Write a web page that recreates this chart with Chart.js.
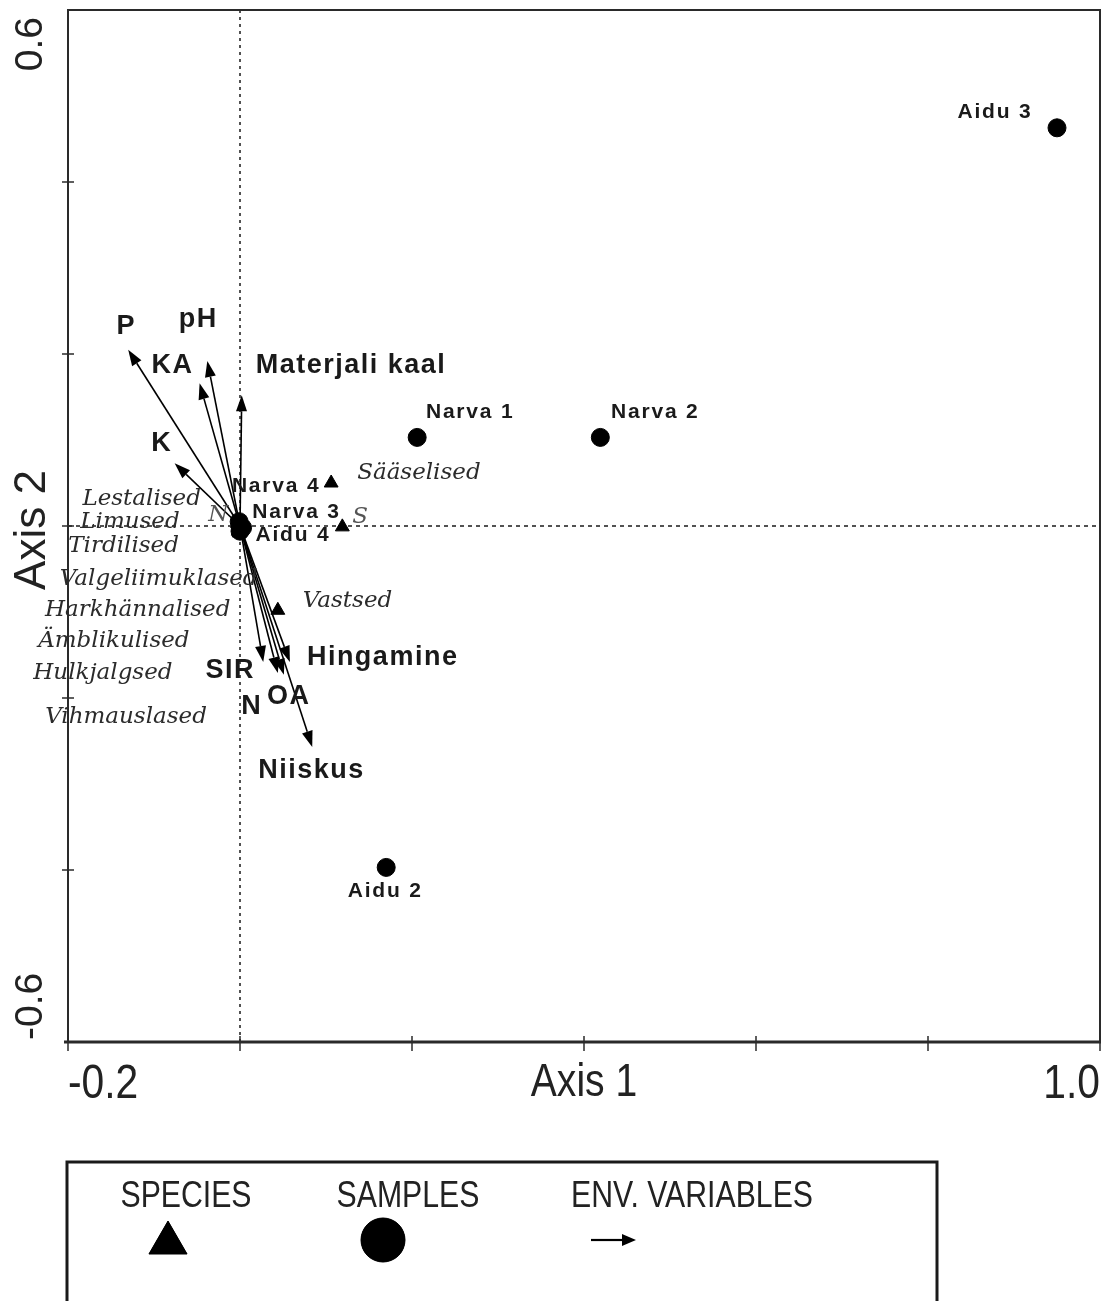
<!DOCTYPE html>
<html>
<head>
<meta charset="utf-8">
<script src="https://cdn.jsdelivr.net/npm/chart.js@4/dist/chart.umd.min.js"></script>
<style>
  html, body { margin: 0; padding: 0; background: #fff; }
  canvas { display: block; }
</style>
</head>
<body>
<canvas id="c" width="1104" height="1301"></canvas>
<script>
// Ordination scores: axis 1 (x) and axis 2 (y)
const sampleNames = ['Aidu 3', 'Narva 1', 'Narva 2', 'Aidu 2', 'Narva 4', 'Narva 3', 'Aidu 4'];
const sampleX = [0.950, 0.206, 0.419, 0.170, -0.001, 0.003, 0.000];
const sampleY = [0.463, 0.103, 0.103, -0.397, 0.005, -0.002, -0.006];

const speciesNames = ['Sääselised', 'S', 'Vastsed', 'N', 'Lestalised', 'Limused', 'Tirdilised',
  'Valgeliimuklased', 'Harkhännalised', 'Ämblikulised', 'Hulkjalgsed', 'Vihmauslased'];
const speciesX = [0.106, 0.119, 0.044, -0.002, -0.003, -0.002, -0.002, 0.001, 0.000, -0.001, -0.002, -0.001];
const speciesY = [0.050, -0.001, -0.098, 0.002, 0.003, 0.001, -0.002, -0.004, -0.005, -0.006, -0.006, -0.008];

const envNames = ['P', 'pH', 'KA', 'K', 'Materjali kaal', 'SIR', 'N', 'OA', 'Hingamine', 'Niiskus'];
const envX = [-0.130, -0.038, -0.047, -0.076, 0.002, 0.027, 0.044, 0.051, 0.058, 0.084];
const envY = [0.205, 0.192, 0.166, 0.073, 0.152, -0.158, -0.171, -0.173, -0.158, -0.257];

const xTicks = [-0.2, 0, 0.2, 0.4, 0.6, 0.8, 1.0];
const yTicks = [-0.6, -0.4, -0.2, 0, 0.2, 0.4, 0.6];
const xTickLabels = ['-0.2', '', '', '', '', '', '1.0'];
const yTickLabels = ['-0.6', '', '', '', '', '', '0.6'];
const axisTitles = ['Axis 1', 'Axis 2'];
const legendTitles = ['SPECIES', 'SAMPLES', 'ENV. VARIABLES'];

// Label placement relative to each plotted point (px): [dx, dy, align]
const sampleLabelPos = {
  'Aidu 3': [-62, -16, 'center'], 'Narva 1': [53, -25, 'center'], 'Narva 2': [55, -25, 'center'],
  'Aidu 2': [-1, 24, 'center'], 'Narva 4': [37, -35, 'center'], 'Narva 3': [54, -16, 'center'],
  'Aidu 4': [53, 4, 'center']
};
const speciesLabelPos = [
  [26, -10], [10, -10], [25, -9], [-30, -9], [-155, -24], [-158, -3], [-170, 18],
  [-181, 50], [-195, 80], [-201, 110], [-205, 142], [-194, 184]
];
const envLabelPos = [
  [-2, -23, 'center'], [-9, -41, 'center'], [-27, -18, 'center'], [-13, -20, 'center'],
  [14, -30, 'left'], [-33, 9, 'center'], [-26, 33, 'center'], [5, 22, 'center'],
  [17, -4, 'left'], [-54, 24, 'left']
];

const INK = '#1a1a1a';

function txt(ctx, s, x, y, font, o = {}) {
  ctx.save();
  ctx.font = font;
  ctx.fillStyle = o.color || INK;
  ctx.textBaseline = 'middle';
  ctx.textAlign = o.align || 'left';
  ctx.letterSpacing = (o.ls || 0) + 'px';
  ctx.translate(x, y);
  if (o.rot) ctx.rotate(o.rot);
  if (o.sx) ctx.scale(o.sx, 1);
  ctx.fillText(s, 0, 0);
  ctx.restore();
}

function arrow(ctx, x0, y0, x1, y1, head, half) {
  const a = Math.atan2(y1 - y0, x1 - x0);
  const bx = x1 - Math.cos(a) * head, by = y1 - Math.sin(a) * head;
  ctx.beginPath();
  ctx.moveTo(x0, y0);
  ctx.lineTo(bx, by);
  ctx.stroke();
  ctx.beginPath();
  ctx.moveTo(x1, y1);
  ctx.lineTo(bx + Math.sin(a) * half, by - Math.cos(a) * half);
  ctx.lineTo(bx - Math.sin(a) * half, by + Math.cos(a) * half);
  ctx.closePath();
  ctx.fill();
}

// Frame, ticks, zero lines and env. variable arrows behind the points
const backdrop = {
  id: 'backdrop',
  beforeDatasetsDraw(chart) {
    const { ctx, chartArea: a, scales: { x, y } } = chart;
    ctx.save();
    ctx.strokeStyle = INK;
    ctx.lineWidth = 1.5;
    // dotted zero lines
    ctx.setLineDash([3, 4]);
    ctx.beginPath();
    ctx.moveTo(x.getPixelForValue(0), a.top);
    ctx.lineTo(x.getPixelForValue(0), a.bottom);
    ctx.stroke();
    ctx.setLineDash([4, 4]);
    ctx.beginPath();
    ctx.moveTo(a.left, y.getPixelForValue(0));
    ctx.lineTo(a.right, y.getPixelForValue(0));
    ctx.stroke();
    ctx.setLineDash([]);
    // env. variable arrows from the origin
    const ox = x.getPixelForValue(0), oy = y.getPixelForValue(0);
    ctx.fillStyle = '#000';
    ctx.strokeStyle = '#000';
    ctx.lineWidth = 1.6;
    envNames.forEach((n, i) => {
      arrow(ctx, ox, oy, x.getPixelForValue(envX[i]), y.getPixelForValue(envY[i]), 16, 5.5);
    });
    ctx.restore();
  },
  afterDraw(chart) {
    const { ctx, chartArea: a, scales: { x, y } } = chart;
    ctx.save();
    ctx.strokeStyle = '#2a2a2a';
    ctx.lineWidth = 2;
    ctx.beginPath();
    ctx.moveTo(a.left, a.bottom);
    ctx.lineTo(a.left, a.top);
    ctx.lineTo(a.right, a.top);
    ctx.lineTo(a.right, a.bottom);
    ctx.stroke();
    ctx.lineWidth = 3;
    ctx.beginPath();
    ctx.moveTo(a.left - 4, a.bottom);
    ctx.lineTo(a.right + 1, a.bottom);
    ctx.stroke();
    ctx.lineWidth = 1.5;
    yTicks.forEach(v => {
      const py = y.getPixelForValue(v);
      if (py <= a.top + 1 || py >= a.bottom - 1) return;
      ctx.beginPath();
      ctx.moveTo(a.left - 6, py);
      ctx.lineTo(a.left + 6, py);
      ctx.stroke();
    });
    xTicks.forEach(v => {
      const px = x.getPixelForValue(v);
      ctx.beginPath();
      ctx.moveTo(px, a.bottom - 6);
      ctx.lineTo(px, a.bottom + 9);
      ctx.stroke();
    });
    ctx.restore();

    // tick labels at the axis ends
    const tf = '48px "Liberation Sans", Arial, sans-serif';
    xTicks.forEach((v, i) => {
      if (!xTickLabels[i]) return;
      const px = x.getPixelForValue(v);
      const align = i === 0 ? 'left' : (i === xTicks.length - 1 ? 'right' : 'center');
      txt(ctx, xTickLabels[i], px, a.bottom + 43, tf, { align, sx: 0.85, color: '#222' });
    });
    const yf = '39px "Liberation Sans", Arial, sans-serif';
    yTicks.forEach((v, i) => {
      if (!yTickLabels[i]) return;
      const py = y.getPixelForValue(v);
      const top = i === yTicks.length - 1;
      txt(ctx, yTickLabels[i], 31, top ? py + 7 : py - 2, yf,
        { align: top ? 'right' : 'left', rot: -Math.PI / 2, color: '#222' });
    });
    // axis titles
    txt(ctx, axisTitles[0], (a.left + a.right) / 2, a.bottom + 41, '46px "Liberation Sans", Arial, sans-serif',
      { align: 'center', sx: 0.85, color: '#222' });
    txt(ctx, axisTitles[1], 33, (a.top + a.bottom) / 2 + 4, '44px "Liberation Sans", Arial, sans-serif',
      { align: 'center', rot: -Math.PI / 2, color: '#222' });
  }
};

// Point and arrow labels
const labels = {
  id: 'labels',
  afterDatasetsDraw(chart) {
    const { ctx, scales: { x, y } } = chart;
    const sf = 'italic 23px "DejaVu Serif", serif';
    speciesNames.forEach((n, i) => {
      const [dx, dy] = speciesLabelPos[i];
      const grey = (n.length === 1);
      txt(ctx, n, x.getPixelForValue(speciesX[i]) + dx, y.getPixelForValue(speciesY[i]) + dy, sf,
        { color: grey ? '#555' : '#2b2b2b' });
    });
    const pf = 'bold 21px "Liberation Sans", Arial, sans-serif';
    sampleNames.forEach((n, i) => {
      const [dx, dy, al] = sampleLabelPos[n];
      txt(ctx, n, x.getPixelForValue(sampleX[i]) + dx, y.getPixelForValue(sampleY[i]) + dy, pf,
        { align: al, ls: 1.8 });
    });
    const ef = 'bold 27px "Liberation Sans", Arial, sans-serif';
    envNames.forEach((n, i) => {
      const [dx, dy, al] = envLabelPos[i];
      txt(ctx, n, x.getPixelForValue(envX[i]) + dx, y.getPixelForValue(envY[i]) + dy, ef,
        { align: al, ls: 1.5 });
    });
  }
};

// Boxed legend below the plot
const legendBox = {
  id: 'legendBox',
  afterDraw(chart) {
    const { ctx } = chart;
    ctx.save();
    ctx.strokeStyle = INK;
    ctx.lineWidth = 3;
    ctx.strokeRect(67, 1162, 870, 160);
    const lf = '36px "Liberation Sans", Arial, sans-serif';
    const cx = [186, 408, 692];
    legendTitles.forEach((t, i) => txt(ctx, t, cx[i], 1197, lf, { align: 'center', sx: 0.84, color: '#222' }));
    const sp = chart.data.datasets[1], sm = chart.data.datasets[0];
    ctx.fillStyle = '#000';
    ctx.strokeStyle = '#000';
    ctx.lineWidth = 1;
    Chart.helpers.drawPoint(ctx, { pointStyle: sp.pointStyle, radius: 22, rotation: 0, borderWidth: 1 }, 168, 1243);
    ctx.fill();
    Chart.helpers.drawPoint(ctx, { pointStyle: sm.pointStyle, radius: 22, rotation: 0, borderWidth: 1 }, 383, 1240);
    ctx.fill();
    ctx.lineWidth = 2.2;
    arrow(ctx, 591, 1240, 636, 1240, 14, 6);
    ctx.restore();
  }
};

const samplePts = sampleX.map((v, i) => ({ x: v, y: sampleY[i] }));
const speciesPts = speciesX.map((v, i) => ({ x: v, y: speciesY[i] }));

new Chart(document.getElementById('c'), {
  type: 'scatter',
  data: {
    datasets: [
      { label: 'SAMPLES', data: samplePts, pointStyle: 'circle', pointRadius: 9,
        backgroundColor: '#000', borderColor: '#000', borderWidth: 1 },
      { label: 'SPECIES', data: speciesPts, pointStyle: 'triangle', pointRadius: 8,
        backgroundColor: '#000', borderColor: '#000', borderWidth: 1 }
    ]
  },
  options: {
    responsive: false,
    devicePixelRatio: 1,
    animation: false,
    events: [],
    layout: { autoPadding: false, padding: { top: 10, right: 4, left: 0, bottom: 0 } },
    plugins: { legend: { display: false }, tooltip: { enabled: false } },
    scales: {
      x: {
        type: 'linear', min: -0.2, max: 1.0,
        grid: { display: false }, border: { display: false },
        ticks: { display: false },
        afterFit(s) { s.height = 259; }
      },
      y: {
        type: 'linear', min: -0.6, max: 0.6,
        grid: { display: false }, border: { display: false },
        ticks: { display: false },
        afterFit(s) { s.width = 68; }
      }
    }
  },
  plugins: [backdrop, labels, legendBox]
});
</script>
</body>
</html>
